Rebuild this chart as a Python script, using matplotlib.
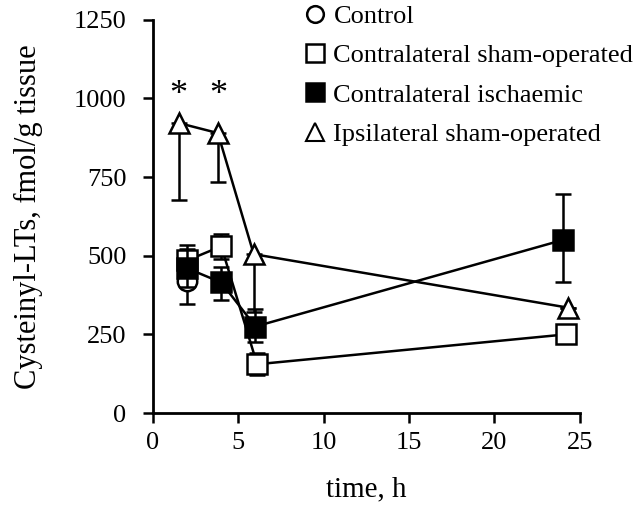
import matplotlib
matplotlib.use('Agg')
import matplotlib.pyplot as plt
from matplotlib.lines import Line2D

plt.rcParams['font.family'] = ['Liberation Serif', 'DejaVu Serif']

# hours after operation
ctrl_x = [2.0]
ctrl_y = [420]
ctrl_err = [75]

sham_c_x = [2.0, 4.0, 6.1, 24.2]
sham_c_y = [485, 530, 155, 250]
sham_c_err = [50, 40, 35, 20]

isch_x = [2.0, 4.0, 6.0, 24.0]
isch_y = [460, 415, 275, 550]
isch_lo = [60, 55, 50, 135]
isch_hi = [60, 50, 55, 145]

sham_i_x = [1.5, 3.8, 5.9, 24.3]
sham_i_y = [922, 890, 505, 335]
sham_i_lo = [245, 155, 185, 0]

star_x = [1.5, 3.8]
star_y = [1010, 1010]

labels = ['Control', 'Contralateral sham-operated', 'Contralateral ischaemic',
          'Ipsilateral sham-operated']

fig = plt.figure(figsize=(6.4, 5.08), dpi=100)
ax = fig.add_axes([0.239, 0.187, 0.667, 0.774])

ekw = dict(color='black', lw=1.8, capsize=6, capthick=1.8, elinewidth=1.8)

ax.errorbar(sham_i_x, sham_i_y, yerr=[sham_i_lo, [0] * 4], marker='^', ms=15,
            mfc='white', mec='black', mew=1.8, zorder=3, **ekw)
ax.errorbar(sham_c_x, sham_c_y, yerr=sham_c_err, marker='s', ms=14,
            mfc='white', mec='black', mew=1.8, zorder=4, **ekw)
ax.errorbar(ctrl_x, ctrl_y, yerr=ctrl_err, marker='o', ms=14, ls='none',
            mfc='white', mec='black', mew=1.8, zorder=4, **ekw)
ax.errorbar(isch_x, isch_y, yerr=[isch_lo, isch_hi], marker='s', ms=14,
            mfc='black', mec='black', mew=1.8, zorder=5, **ekw)

for x, y in zip(star_x, star_y):
    ax.text(x, y, '*', ha='center', va='center', fontsize=26)

ax.set_xlim(0, 25)
ax.set_ylim(0, 1250)
ax.set_xticks([0, 5, 10, 15, 20, 25])
ax.set_yticks([0, 250, 500, 750, 1000, 1250])
ax.spines['top'].set_visible(False)
ax.spines['right'].set_visible(False)
for s in ('left', 'bottom'):
    ax.spines[s].set_linewidth(2)
ax.tick_params(direction='out', length=7, width=1.8, labelsize=19)
ax.tick_params(axis='y', pad=12)
ax.tick_params(axis='x', pad=7)
ax.set_xlabel('time, h', fontsize=21, labelpad=16)
ax.set_ylabel('Cysteinyl-LTs, fmol/g tissue', fontsize=22, labelpad=22)

handles = [
    Line2D([], [], ls='none', marker='o', ms=12, mfc='white', mec='black', mew=1.8),
    Line2D([], [], ls='none', marker='s', ms=13, mfc='white', mec='black', mew=1.8),
    Line2D([], [], ls='none', marker='s', ms=13, mfc='black', mec='black', mew=1.8),
    Line2D([], [], ls='none', marker='^', ms=13, mfc='white', mec='black', mew=1.5),
]
fig.legend(handles, labels, loc='upper left', bbox_to_anchor=(0.455, 1.012),
           frameon=False, fontsize=19, handletextpad=0.2, labelspacing=0.6,
           handlelength=1.0, borderaxespad=0.0)

fig.savefig('out.png', dpi=100)
